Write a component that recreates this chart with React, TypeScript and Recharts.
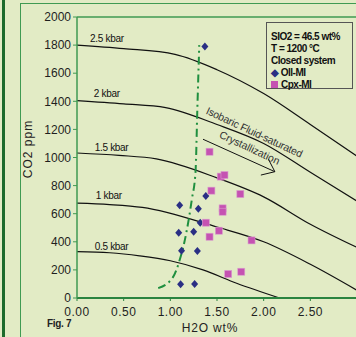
import { ComposedChart, Line, Scatter, XAxis, YAxis, ReferenceLine, ReferenceDot } from 'recharts';

// isobars (H2O wt%, CO2 ppm)
const iso25 = [{ x: 0, y: 1800 }, { x: 0.5, y: 1775 }, { x: 1.05, y: 1734 }, { x: 1.5, y: 1625 }, { x: 2.0, y: 1455 }, { x: 2.5, y: 1235 }, { x: 3.0, y: 1010 }];
const iso20 = [{ x: 0, y: 1405 }, { x: 0.5, y: 1382 }, { x: 0.95, y: 1355 }, { x: 1.5, y: 1235 }, { x: 2.0, y: 1100 }, { x: 2.5, y: 895 }, { x: 3.0, y: 690 }];
const iso15 = [{ x: 0, y: 1032 }, { x: 0.45, y: 1015 }, { x: 0.85, y: 990 }, { x: 1.5, y: 855 }, { x: 2.0, y: 720 }, { x: 2.5, y: 525 }, { x: 3.0, y: 360 }];
const iso10 = [{ x: 0, y: 675 }, { x: 0.35, y: 665 }, { x: 0.7, y: 645 }, { x: 1.5, y: 505 }, { x: 2.0, y: 400 }, { x: 2.5, y: 240 }, { x: 3.0, y: 55 }];
const iso05 = [{ x: 0, y: 330 }, { x: 0.35, y: 322 }, { x: 0.67, y: 300 }, { x: 1.0, y: 265 }, { x: 1.35, y: 200 }, { x: 1.71, y: 105 }, { x: 2.17, y: 0 }];

const trend = [{ x: 0.87, y: 70 }, { x: 1.03, y: 150 }, { x: 1.1, y: 270 }, { x: 1.17, y: 460 }, { x: 1.23, y: 700 }, { x: 1.27, y: 900 }, { x: 1.29, y: 1360 }, { x: 1.31, y: 1800 }];

const oliMI = [
  { x: 1.37, y: 1790 }, { x: 1.38, y: 726 }, { x: 1.1, y: 660 }, { x: 1.3, y: 636 }, { x: 1.32, y: 536 },
  { x: 1.09, y: 465 }, { x: 1.25, y: 472 }, { x: 1.12, y: 337 }, { x: 1.29, y: 334 }, { x: 1.11, y: 97 }, { x: 1.26, y: 100 },
];
const cpxMI = [
  { x: 1.42, y: 1041 }, { x: 1.54, y: 864 }, { x: 1.58, y: 875 }, { x: 1.44, y: 764 }, { x: 1.75, y: 740 },
  { x: 1.56, y: 638 }, { x: 1.56, y: 614 }, { x: 1.38, y: 536 }, { x: 1.52, y: 479 }, { x: 1.42, y: 436 },
  { x: 1.87, y: 410 }, { x: 1.62, y: 171 }, { x: 1.76, y: 187 },
];

const xTicks = [0, 0.5, 1, 1.5, 2, 2.5];
const yTicks = [0, 200, 400, 600, 800, 1000, 1200, 1400, 1600, 1800, 2000];

const isoLabels = [
  { text: '2.5 kbar', x: 0.32, y: 1850 },
  { text: '2 kbar', x: 0.32, y: 1459 },
  { text: '1.5 kbar', x: 0.37, y: 1075 },
  { text: '1 kbar', x: 0.34, y: 733 },
  { text: '0.5 kbar', x: 0.37, y: 370 },
];

const BG = '#e2ebc5';
const FRAME = '#3f9a52';
const NARROW = '"Liberation Sans Narrow", "Liberation Sans", Arial, sans-serif';
const SANS = '"Liberation Sans", Arial, sans-serif';

const Diamond = (p: any) => (
  <polygon points={`${p.cx},${p.cy - 4} ${p.cx + 3.5},${p.cy} ${p.cx},${p.cy + 4} ${p.cx - 3.5},${p.cy}`} fill="#2a2f84" />
);
const Square = (p: any) => (
  <rect x={p.cx - 3.5} y={p.cy - 3.5} width={7} height={7} fill="#c552b2" stroke="#d99ccd" strokeWidth={0.6} />
);

const fmtX = (v: number) => v.toFixed(2);

export default function App() {
  return (
    <div style={{ position: 'absolute', left: 0, top: 0, width: 356, height: 337, overflow: 'hidden', background: BG }}>
      <div style={{ position: 'absolute', left: 2, top: 0, width: 3, height: 337, background: '#1d6a2c' }} />
      <div style={{ position: 'absolute', left: 20, top: 3, width: 340, height: 340, borderLeft: `1.5px solid ${FRAME}`, borderTop: `1.5px solid ${FRAME}` }} />
      <div style={{ position: 'absolute', left: 0, top: 0 }}>
        <ComposedChart width={358} height={337} margin={{ top: 17, right: 1, left: 0, bottom: 19 }}>
          <XAxis type="number" dataKey="x" domain={[0, 3]} ticks={xTicks} tickFormatter={fmtX}
            axisLine={{ stroke: '#2a8440', strokeWidth: 2 }} tickLine={{ stroke: '#2a8440' }} tickSize={3} tickMargin={6} height={20}
            tick={{ fill: '#1e1e1e', fontSize: 12, fontFamily: SANS, letterSpacing: 0.5 }}
            label={{ content: () => <text x={210} y={332} textAnchor="middle" fill="#222" fontSize={12} fontFamily={SANS} letterSpacing={0.8}>H2O wt%</text> }} />
          <YAxis type="number" domain={[0, 2000]} ticks={yTicks} width={77}
            axisLine={{ stroke: FRAME, strokeWidth: 1.5 }} tickLine={{ stroke: FRAME }} tickSize={4} tickMargin={2}
            tick={{ fill: '#1e1e1e', fontSize: 12, fontFamily: SANS }}
            label={{ content: () => <text x={32} y={149} transform="rotate(-90 32 149)" textAnchor="middle" fill="#222" fontSize={12} fontFamily={SANS} letterSpacing={1}>CO2 ppm</text> }} />
          <ReferenceLine y={2000} stroke={FRAME} strokeWidth={1.5} />
          <Line data={iso25} dataKey="y" type="monotone" stroke="#111" strokeWidth={1.2} dot={false} isAnimationActive={false} />
          <Line data={iso20} dataKey="y" type="monotone" stroke="#111" strokeWidth={1.2} dot={false} isAnimationActive={false} />
          <Line data={iso15} dataKey="y" type="monotone" stroke="#111" strokeWidth={1.2} dot={false} isAnimationActive={false} />
          <Line data={iso10} dataKey="y" type="monotone" stroke="#111" strokeWidth={1.2} dot={false} isAnimationActive={false} />
          <Line data={iso05} dataKey="y" type="monotone" stroke="#111" strokeWidth={1.2} dot={false} isAnimationActive={false} />
          <Line data={trend} dataKey="y" type="monotone" stroke="#1f8f3f" strokeWidth={2} strokeDasharray="8 4 2 4" dot={false} isAnimationActive={false} />
          <ReferenceLine segment={[{ x: 1.35, y: 1130 }, { x: 2.12, y: 899 }]} stroke="#111" strokeWidth={1} />
          <ReferenceLine segment={[{ x: 2.05, y: 989 }, { x: 2.12, y: 899 }]} stroke="#111" strokeWidth={1} />
          <ReferenceLine segment={[{ x: 1.97, y: 875 }, { x: 2.12, y: 899 }]} stroke="#111" strokeWidth={1} />
          {isoLabels.map((l) => (
            <ReferenceDot key={l.text} x={l.x} y={l.y} r={0} stroke="none" fill="none"
              label={{ value: l.text, position: 'center', fill: '#111', fontSize: 10, fontFamily: NARROW, letterSpacing: -0.3 }} />
          ))}
          <ReferenceDot x={1.9} y={1180} r={0} stroke="none" fill="none"
            label={{ value: 'Isobaric Fluid-saturated', position: 'center', angle: 25, fill: '#333', fontSize: 10.5, fontFamily: NARROW, letterSpacing: -0.2 }} />
          <ReferenceDot x={1.85} y={1070} r={0} stroke="none" fill="none"
            label={{ value: 'Crystallization', position: 'center', angle: 25, fill: '#333', fontSize: 10.5, fontFamily: NARROW }} />
          <Scatter data={oliMI} dataKey="y" shape={Diamond} isAnimationActive={false} />
          <Scatter data={cpxMI} dataKey="y" shape={Square} isAnimationActive={false} />
        </ComposedChart>
      </div>
      <div style={{ position: 'absolute', left: 266, top: 22, width: 87, height: 67, border: '1.5px solid #555', background: BG,
        fontFamily: NARROW, fontWeight: 'bold', fontSize: 10, lineHeight: '12px', letterSpacing: -0.5, color: '#111', padding: '8px 0 0 4px', boxSizing: 'border-box' }}>
        <div>SIO2 = 46.5 wt%</div>
        <div>T = 1200 °C</div>
        <div>Closed system</div>
        <div><span style={{ color: '#2a2f84' }}>◆</span> Oll-MI</div>
        <div><span style={{ display: 'inline-block', width: 7, height: 7, background: '#c552b2', marginRight: 3 }} />Cpx-MI</div>
      </div>
      <div style={{ position: 'absolute', left: 47, top: 318, fontFamily: NARROW, fontWeight: 'bold', fontSize: 10, letterSpacing: -0.3, color: '#222' }}>Fig. 7</div>
    </div>
  );
}
